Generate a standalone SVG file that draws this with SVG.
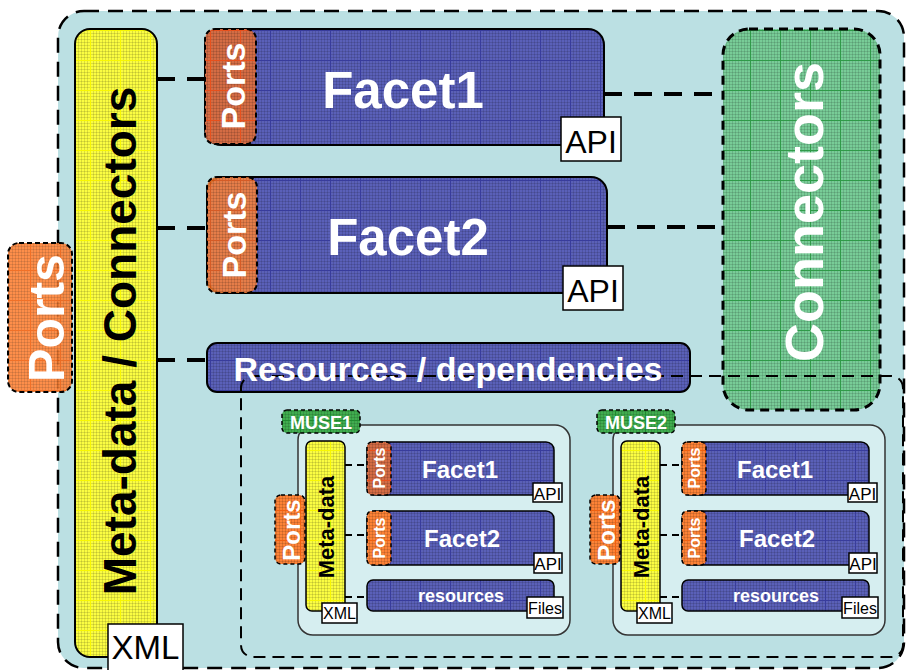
<svg xmlns="http://www.w3.org/2000/svg" width="908" height="670" viewBox="0 0 908 670">
  <style>
    text { font-family: "Liberation Sans", Arial, sans-serif; }
    .b { font-weight: bold; }
    .w { fill: #ffffff; }
    .k { fill: #000000; }
    .solid { stroke: #000; stroke-width: 2; }
    .thin { stroke: #333; stroke-width: 1.5; }
    .dash-s { stroke: #000; stroke-width: 2; stroke-dasharray: 5 3; }
    .tag { fill: #ffffff; stroke: #000; stroke-width: 1.5; }
    .link { fill: none; stroke: #000; stroke-width: 4; stroke-dasharray: 18 12; }
    .link-s { fill: none; stroke: #000; stroke-width: 2; stroke-dasharray: 7 5; }
  </style>
  <defs>
    <!-- fine graph-paper texture shared by all fills -->
    <pattern id="fine" width="3" height="3" patternUnits="userSpaceOnUse">
      <path d="M0 0.5H3M0.5 0V3" stroke="#000" stroke-opacity="0.12" stroke-width="1"/>
    </pattern>
    <pattern id="gBlue" width="30" height="30" patternUnits="userSpaceOnUse">
      <rect width="30" height="30" fill="#5a60b8"/>
      <rect width="30" height="30" fill="url(#fine)"/>
      <path d="M0 0.5H30M0.5 0V30" stroke="#383c9c" stroke-width="1"/>
    </pattern>
    <pattern id="gYellow" width="30" height="30" patternUnits="userSpaceOnUse">
      <rect width="30" height="30" fill="#fbfd42"/>
      <rect width="30" height="30" fill="url(#fine)"/>
      <path d="M0 0.5H30M0.5 0V30" stroke="#f8f800" stroke-width="1"/>
    </pattern>
    <pattern id="gGreen" width="30" height="30" patternUnits="userSpaceOnUse">
      <rect width="30" height="30" fill="#78cc97"/>
      <rect width="30" height="30" fill="url(#fine)"/>
      <path d="M0 0.5H30M0.5 0V30" stroke="#2f9a48" stroke-width="1"/>
    </pattern>
    <pattern id="gGreenDark" width="30" height="30" patternUnits="userSpaceOnUse">
      <rect width="30" height="30" fill="#40ad4f"/>
      <rect width="30" height="30" fill="url(#fine)"/>
      <path d="M0 0.5H30M0.5 0V30" stroke="#1f8a30" stroke-width="1"/>
    </pattern>
    <pattern id="gRust" width="30" height="30" patternUnits="userSpaceOnUse">
      <rect width="30" height="30" fill="#d46c44"/>
      <rect width="30" height="30" fill="url(#fine)"/>
      <path d="M0 0.5H30M0.5 0V30" stroke="#e8501c" stroke-width="1"/>
    </pattern>
    <pattern id="gOrange" width="30" height="30" patternUnits="userSpaceOnUse">
      <rect width="30" height="30" fill="#fd8236"/>
      <rect width="30" height="30" fill="url(#fine)"/>
      <path d="M0 0.5H30M0.5 0V30" stroke="#f06010" stroke-width="1"/>
    </pattern>
  </defs>

  <!-- outer module boundary -->
  <g id="module">
    <rect x="58" y="11" width="846" height="657" rx="26" fill="#bbe0e3" stroke="#000" stroke-width="2.5" stroke-dasharray="15 9"/>
  </g>

  <!-- dashed links between parts -->
  <g id="connectors">
    <path class="link" d="M157 79H205"/>
    <path class="link" d="M157 228H207"/>
    <path class="link" d="M157 360H207"/>
    <path class="link" d="M604 94H723"/>
    <path class="link" d="M607 227H723"/>
  </g>

  <!-- meta-data / connectors column -->
  <g id="metadata">
    <rect x="75" y="29" width="82" height="628" rx="15" fill="url(#gYellow)" class="solid"/>
    <text class="b k" font-size="46" text-anchor="middle" transform="translate(136,341) rotate(-90)">Meta-data / Connectors</text>
    <rect x="108" y="624" width="75" height="50" class="tag"/>
    <text class="k" font-size="33" text-anchor="middle" x="145.5" y="659">XML</text>
  </g>

  <!-- external ports -->
  <g id="ports-outer">
    <rect x="8" y="243" width="64" height="149" rx="11" fill="url(#gOrange)" fill-opacity="0.9" class="dash-s"/>
    <text class="b w" font-size="50" text-anchor="middle" transform="translate(64,318) rotate(-90)">Ports</text>
  </g>

  <!-- facet 1 -->
  <g id="facet1">
    <rect x="205" y="29" width="399" height="116" rx="16" fill="url(#gBlue)" class="solid"/>
    <rect x="205" y="29" width="51" height="115" rx="10" fill="url(#gRust)" class="dash-s"/>
    <text class="b w" font-size="34" text-anchor="middle" transform="translate(245,86) rotate(-90)">Ports</text>
    <text class="b w" font-size="51" text-anchor="middle" x="403" y="108">Facet1</text>
    <rect x="561" y="117" width="60" height="44" class="tag"/>
    <text class="k" font-size="32" text-anchor="middle" x="591" y="153">API</text>
  </g>

  <!-- facet 2 -->
  <g id="facet2">
    <rect x="207" y="177" width="400" height="116" rx="16" fill="url(#gBlue)" class="solid"/>
    <rect x="207" y="177" width="50" height="116" rx="10" fill="url(#gOrange)" fill-opacity="0.85" class="dash-s"/>
    <text class="b w" font-size="34" text-anchor="middle" transform="translate(246,235) rotate(-90)">Ports</text>
    <text class="b w" font-size="51" text-anchor="middle" x="408" y="255">Facet2</text>
    <rect x="563" y="266" width="60" height="44" class="tag"/>
    <text class="k" font-size="32" text-anchor="middle" x="593" y="302">API</text>
  </g>

  <!-- resources bar -->
  <g id="resources">
    <rect x="207" y="343" width="483" height="49" rx="10" fill="url(#gBlue)" class="solid"/>
  </g>

  <!-- connectors column -->
  <g id="connectors-box">
    <rect x="723" y="29" width="157" height="381" rx="26" fill="url(#gGreen)" stroke="#000" stroke-width="3" stroke-dasharray="9 6"/>
    <text class="b w" font-size="54" text-anchor="middle" transform="translate(823,212) rotate(-90)">Connectors</text>
  </g>

  <!-- area holding the bundled dependencies -->
  <g id="dependency-area">
    <rect x="241" y="376" width="662" height="281" rx="12" fill="none" stroke="#000" stroke-width="2" stroke-dasharray="12 7"/>
  </g>

  <!-- resources bar caption, kept above the dependency outline -->
  <g id="resources-label">
    <text class="b w" font-size="34" text-anchor="middle" x="448" y="381">Resources / dependencies</text>
  </g>

  <!-- nested module MUSE1 -->
  <g id="muse1">
    <rect x="298" y="425" width="272" height="210" rx="15" fill="#d6eef0" class="thin"/>
    <rect x="282" y="410" width="78" height="23" rx="5" fill="url(#gGreenDark)" stroke="#000" stroke-width="1.5" stroke-dasharray="4 3"/>
    <text class="b w" font-size="18" text-anchor="middle" x="321" y="429">MUSE1</text>
    <path class="link-s" d="M345 465H367M345 535H367M345 597H367"/>
    <rect x="306" y="441" width="39" height="170" rx="6" fill="url(#gYellow)" stroke="#000" stroke-width="1.5"/>
    <text class="b k" font-size="22" text-anchor="middle" transform="translate(334,527) rotate(-90)">Meta-data</text>
    <rect x="322" y="603" width="35" height="20" class="tag"/>
    <text class="k" font-size="16" text-anchor="middle" x="339.5" y="619">XML</text>
    <rect x="275" y="495" width="30" height="69" rx="6" fill="url(#gOrange)" stroke="#000" stroke-width="1.5" stroke-dasharray="4 3"/>
    <text class="b w" font-size="24" text-anchor="middle" transform="translate(300,530) rotate(-90)">Ports</text>
    <rect x="367" y="442" width="187" height="53" rx="8" fill="url(#gBlue)" stroke="#000" stroke-width="1.5"/>
    <rect x="367" y="442" width="24" height="53" rx="5" fill="url(#gRust)" stroke="#000" stroke-width="1.5" stroke-dasharray="4 3"/>
    <text class="b w" font-size="16" text-anchor="middle" transform="translate(385,468) rotate(-90)">Ports</text>
    <text class="b w" font-size="24" text-anchor="middle" x="460" y="478">Facet1</text>
    <rect x="533" y="483" width="29" height="19" class="tag"/>
    <text class="k" font-size="17" text-anchor="middle" x="547.5" y="500">API</text>
    <rect x="367" y="511" width="187" height="54" rx="8" fill="url(#gBlue)" stroke="#000" stroke-width="1.5"/>
    <rect x="367" y="511" width="24" height="54" rx="5" fill="url(#gOrange)" stroke="#000" stroke-width="1.5" stroke-dasharray="4 3"/>
    <text class="b w" font-size="16" text-anchor="middle" transform="translate(385,538) rotate(-90)">Ports</text>
    <text class="b w" font-size="24" text-anchor="middle" x="462" y="547">Facet2</text>
    <rect x="534" y="553" width="28" height="20" class="tag"/>
    <text class="k" font-size="17" text-anchor="middle" x="548" y="570">API</text>
    <rect x="367" y="580" width="187" height="31" rx="6" fill="url(#gBlue)" stroke="#000" stroke-width="1.5"/>
    <text class="b w" font-size="18" text-anchor="middle" x="461" y="602">resources</text>
    <rect x="527" y="597" width="36" height="21" class="tag"/>
    <text class="k" font-size="16" text-anchor="middle" x="545" y="614">Files</text>
  </g>

  <!-- nested module MUSE2 -->
  <g id="muse2" transform="translate(315,0)">
    <rect x="298" y="425" width="272" height="210" rx="15" fill="#d6eef0" class="thin"/>
    <rect x="282" y="410" width="78" height="23" rx="5" fill="url(#gGreenDark)" stroke="#000" stroke-width="1.5" stroke-dasharray="4 3"/>
    <text class="b w" font-size="18" text-anchor="middle" x="321" y="429">MUSE2</text>
    <path class="link-s" d="M345 465H367M345 535H367M345 597H367"/>
    <rect x="306" y="441" width="39" height="170" rx="6" fill="url(#gYellow)" stroke="#000" stroke-width="1.5"/>
    <text class="b k" font-size="22" text-anchor="middle" transform="translate(334,527) rotate(-90)">Meta-data</text>
    <rect x="322" y="603" width="35" height="20" class="tag"/>
    <text class="k" font-size="16" text-anchor="middle" x="339.5" y="619">XML</text>
    <rect x="275" y="495" width="30" height="69" rx="6" fill="url(#gOrange)" stroke="#000" stroke-width="1.5" stroke-dasharray="4 3"/>
    <text class="b w" font-size="24" text-anchor="middle" transform="translate(300,530) rotate(-90)">Ports</text>
    <rect x="367" y="442" width="187" height="53" rx="8" fill="url(#gBlue)" stroke="#000" stroke-width="1.5"/>
    <rect x="367" y="442" width="24" height="53" rx="5" fill="url(#gOrange)" stroke="#000" stroke-width="1.5" stroke-dasharray="4 3"/>
    <text class="b w" font-size="16" text-anchor="middle" transform="translate(385,468) rotate(-90)">Ports</text>
    <text class="b w" font-size="24" text-anchor="middle" x="460" y="478">Facet1</text>
    <rect x="533" y="483" width="29" height="19" class="tag"/>
    <text class="k" font-size="17" text-anchor="middle" x="547.5" y="500">API</text>
    <rect x="367" y="511" width="187" height="54" rx="8" fill="url(#gBlue)" stroke="#000" stroke-width="1.5"/>
    <rect x="367" y="511" width="24" height="54" rx="5" fill="url(#gOrange)" stroke="#000" stroke-width="1.5" stroke-dasharray="4 3"/>
    <text class="b w" font-size="16" text-anchor="middle" transform="translate(385,538) rotate(-90)">Ports</text>
    <text class="b w" font-size="24" text-anchor="middle" x="462" y="547">Facet2</text>
    <rect x="534" y="553" width="28" height="20" class="tag"/>
    <text class="k" font-size="17" text-anchor="middle" x="548" y="570">API</text>
    <rect x="367" y="580" width="187" height="31" rx="6" fill="url(#gBlue)" stroke="#000" stroke-width="1.5"/>
    <text class="b w" font-size="18" text-anchor="middle" x="461" y="602">resources</text>
    <rect x="527" y="597" width="36" height="21" class="tag"/>
    <text class="k" font-size="16" text-anchor="middle" x="545" y="614">Files</text>
  </g>
</svg>
